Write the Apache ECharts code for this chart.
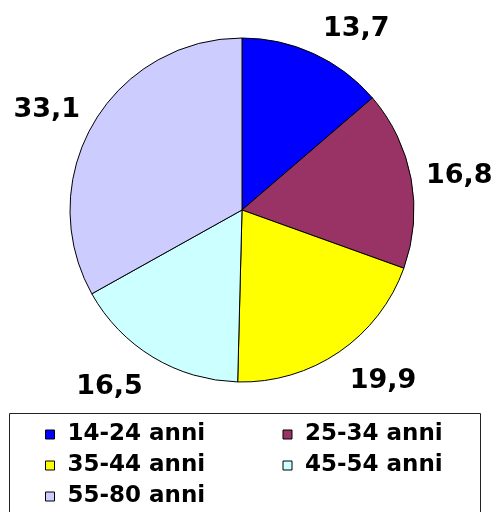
<!DOCTYPE html>
<html>
<head>
<meta charset="utf-8">
<script src="https://cdn.jsdelivr.net/npm/echarts@6/dist/echarts.min.js"></script>
<style>
  html, body { margin: 0; padding: 0; background: #fff; }
  #chart { width: 497px; height: 512px; }
</style>
</head>
<body>
<div id="chart"></div>
<script>
// fasce d'età e quote (%)
const categories = ['14-24 anni', '25-34 anni', '35-44 anni', '45-54 anni', '55-80 anni'];
const values = [13.7, 16.8, 19.9, 16.5, 33.1];
const colors = ['#0000ff', '#993366', '#ffff00', '#ccffff', '#ccccff'];

const font = '"DejaVu Sans", Verdana, sans-serif';

const chart = echarts.init(document.getElementById('chart'), null, { renderer: 'canvas' });

chart.setOption({
  animation: false,
  backgroundColor: '#fff',
  color: colors,
  graphic: [{
    // cornice della legenda (prosegue oltre il bordo inferiore)
    type: 'rect',
    shape: { x: 9.5, y: 413.5, width: 471, height: 140 },
    style: { fill: 'none', stroke: '#222', lineWidth: 1 },
    z: 0
  }],
  legend: {
    left: 45,
    top: 422,
    width: 470,
    orient: 'horizontal',
    icon: 'rect',
    itemWidth: 9,
    itemHeight: 9,
    itemGap: 6,
    padding: 0,
    itemStyle: { borderColor: '#000', borderWidth: 1 },
    textStyle: {
      fontFamily: font,
      fontWeight: 'bold',
      fontSize: 23,
      color: '#000',
      width: 209,
      lineHeight: 25,
      padding: [0, 0, 0, 8]
    },
    data: categories
  },
  series: [{
    type: 'pie',
    center: [242, 210],
    radius: 172,
    startAngle: 90,
    clockwise: true,
    avoidLabelOverlap: false,
    itemStyle: { borderColor: '#000', borderWidth: 1 },
    emphasis: { disabled: true },
    label: {
      show: true,
      position: 'outside',
      fontFamily: font,
      fontWeight: 'bold',
      fontSize: 27,
      color: '#000',
      formatter: p => String(p.value).replace('.', ',')
    },
    labelLine: {
      show: true,
      length: 10,
      length2: 0,
      lineStyle: { opacity: 0, width: 0 }
    },
    labelLayout: params => {
      const pts = params.labelLinePoints;
      if (!pts || pts.length < 2) return {};
      const vx = pts[1][0] - pts[0][0];
      const vy = pts[1][1] - pts[0][1];
      const len = Math.sqrt(vx * vx + vy * vy) || 1;
      return { dy: vy / len * 21 + 3 };
    },
    data: categories.map((name, i) => ({ name, value: values[i] }))
  }]
});
</script>
</body>
</html>
